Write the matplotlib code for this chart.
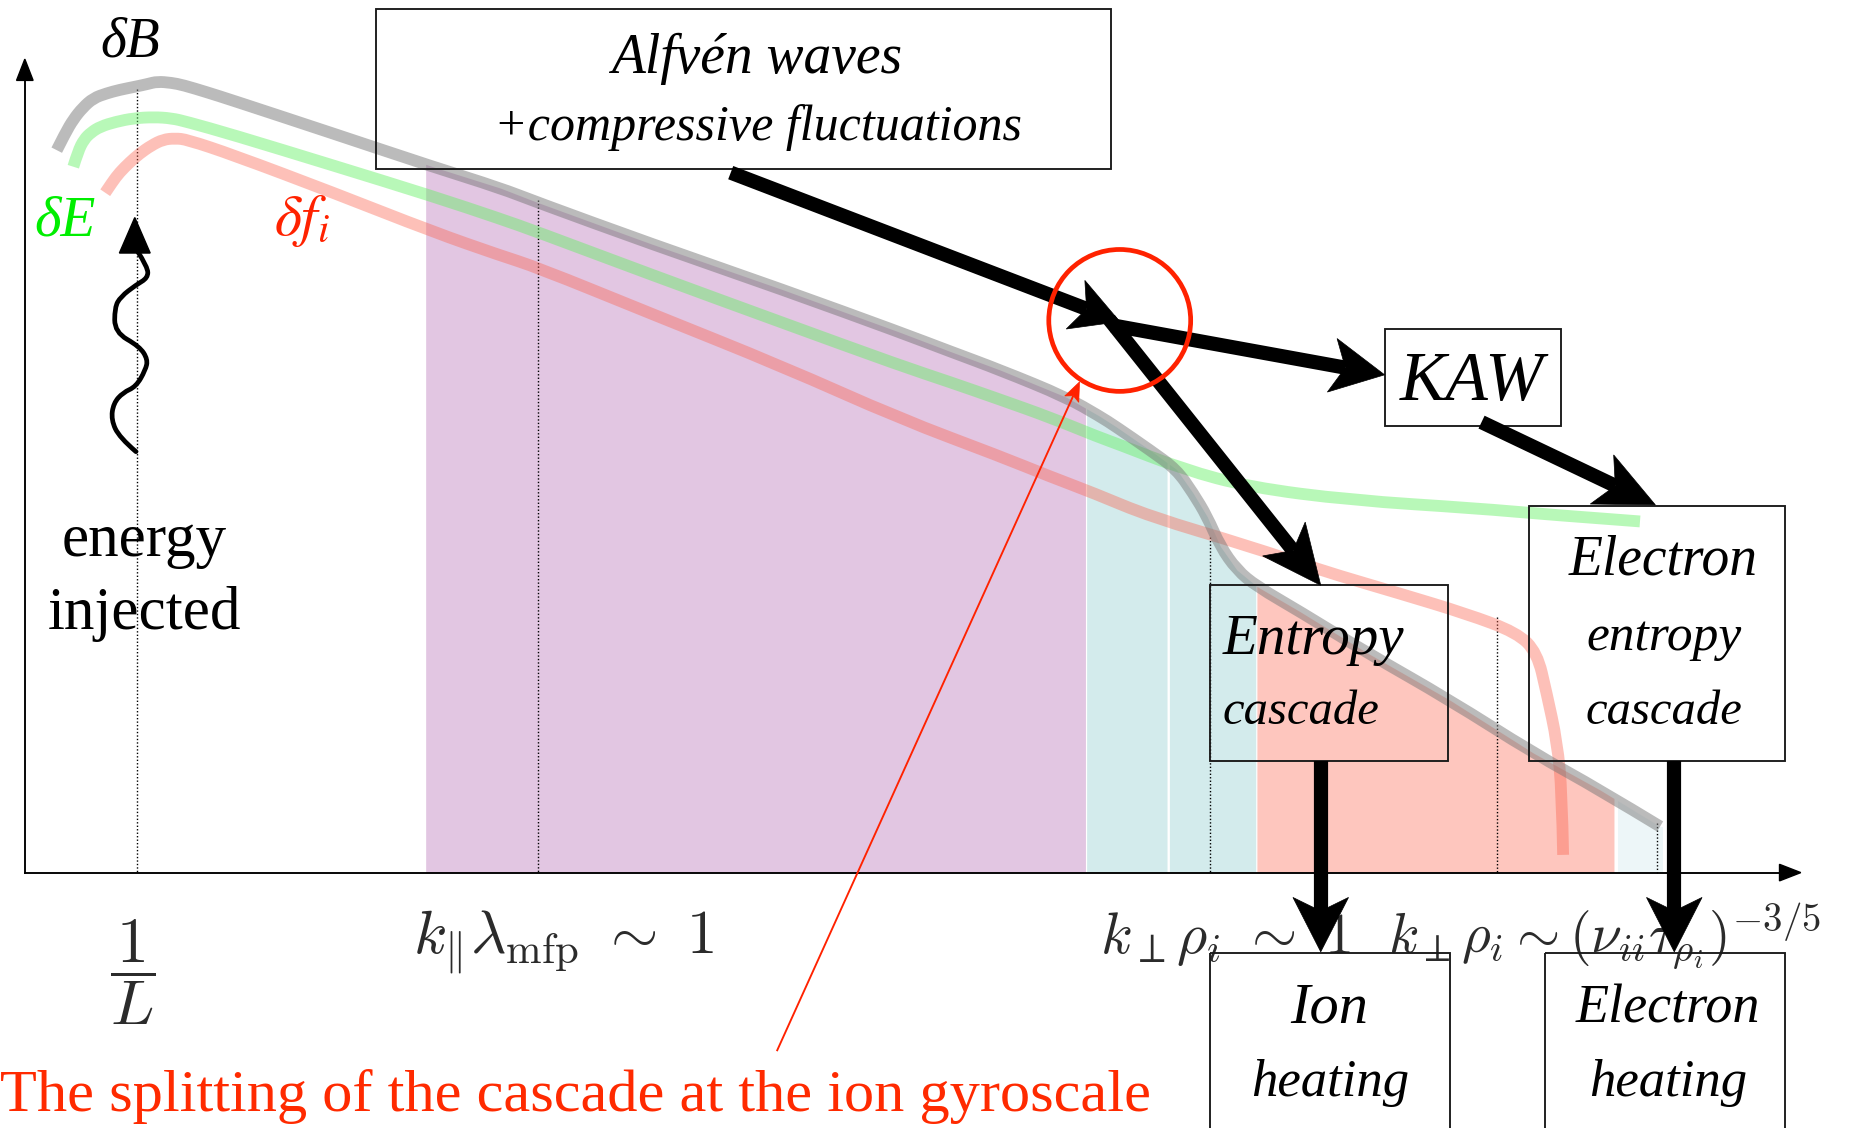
import numpy as np
import matplotlib
matplotlib.use("Agg")
import matplotlib.pyplot as plt
from matplotlib.patches import Polygon, Rectangle, Circle, PathPatch
from matplotlib.path import Path

# ---------------------------------------------------------------------------
# Diagram units: x = wavenumber position, y = spectral level (grows downward)
# ---------------------------------------------------------------------------
W, H = 1568, 954
AXIS_Y, AXIS_X0, AXIS_X1, AXIS_TOP = 738, 21, 1523, 50

# magnetic-field spectrum  dB
k_B = [48, 55, 62, 70, 79, 90, 101, 116, 125, 133, 145, 155, 175, 197, 282, 366,
       423, 454, 550, 662, 761, 803, 846, 902, 930, 944, 973, 995, 1009, 1021,
       1032, 1046, 1063, 1099, 1156, 1226, 1297, 1353, 1404]
dB = [127, 113, 101, 91, 83, 79, 76, 73, 71, 69, 70, 72, 78, 85, 113, 141,
      159, 171, 206, 245, 281, 297, 313, 336, 352, 361, 381, 397, 417, 437,
      462, 482, 496, 517, 552, 592, 637, 668, 699]

# electric-field spectrum  dE
k_E = [62, 66, 71, 77, 85, 98, 113, 130, 145, 158, 197, 282, 366, 423, 454, 550,
       662, 761, 803, 846, 888, 930, 944, 1001, 1057, 1142, 1250, 1307, 1387]
dE = [141, 128, 118, 112, 107, 103, 100, 99, 100, 103, 114, 140, 166, 185, 196, 232,
      273, 309, 323, 338, 353, 370, 375, 397, 412, 423, 430, 435, 441]

# ion distribution-function spectrum  df_i
k_f = [89, 95, 101, 110, 118, 128, 138, 148, 158, 197, 282, 366, 423, 454, 550,
       662, 761, 846, 888, 925, 973, 1057, 1116, 1184, 1240, 1283, 1300, 1308,
       1317, 1321, 1322]
df = [163, 154, 146, 137, 130, 123, 118, 117, 118, 131, 163, 196, 216, 226, 265,
      310, 354, 386, 403, 417, 437, 462, 482, 502, 519, 535, 552, 586,
      628, 671, 723]

# shaded wavenumber ranges under the dB spectrum
band_lo = [360, 919, 989, 1063, 1368]
band_hi = [918, 987, 1062, 1365, 1406]
band_col = ["#e2c6e2", "#d3ebec", "#d3ebec", "#fec6be", "#edf6f8"]

# characteristic scales (dotted markers) and their upper ends
mark_k = [116, 455, 1023, 1266, 1401]
mark_top = [75, 169, 454, 522, 696]

# boxes: (x0, y0, x1, y1)
boxes = {
    "alfven": (318, 8, 940, 143),
    "kaw": (1171, 278, 1320, 360),
    "entropy": (1023, 495, 1225, 644),
    "e_entropy": (1293, 428, 1510, 644),
    "ion_heat": (1023, 806, 1226, 975),
    "e_heat": (1307, 806, 1510, 975),
}

# thick cascade arrows: start, end, head length, head width
arrows = [
    ((618, 146), (947, 272), 40, 44),
    ((940, 275), (1171, 317), 45, 46),
    ((938, 270), (1117, 495), 50, 46),
    ((1253, 357), (1400, 427), 50, 46),
    ((1117, 644), (1117, 805), 46, 47),
    ((1416, 644), (1416, 805), 46, 47),
]

# energy-injection wave
wave_x = [115, 101, 94, 96, 104, 115, 123, 125, 118, 97, 97, 102, 115, 125, 125, 116]
wave_y = [382, 370, 355, 341, 332, 327, 313, 304, 293, 281, 260, 251, 241, 235, 226, 212]

PT = 18.54 * 72 / W      # points per diagram unit
SERIF = "Liberation Serif"

fig = plt.figure(figsize=(18.54, 11.28), dpi=100)
ax = fig.add_axes([0, 0, 1, 1])
ax.set_xlim(0, W)
ax.set_ylim(H, 0)
ax.axis("off")


def smooth_path(xs, ys):
    """Quadratic-Bezier path using the given points as control points."""
    p = np.column_stack([xs, ys]).astype(float)
    verts, codes = [p[0]], [Path.MOVETO]
    for i in range(1, len(p) - 1):
        mid = (p[i] + p[i + 1]) / 2
        verts += [p[i], mid if i < len(p) - 2 else p[i + 1]]
        codes += [Path.CURVE3, Path.CURVE3]
    return Path(verts, codes)


def spectrum(xs, ys, color, alpha):
    ax.add_patch(PathPatch(smooth_path(xs, ys), fc="none", ec=color, alpha=alpha,
                           lw=10 * PT, capstyle="butt", joinstyle="round", zorder=3))


def stealth(p0, p1, width, hl, hw, color="black", notch=0.25, z=6):
    p0 = np.asarray(p0, float)
    p1 = np.asarray(p1, float)
    d = (p1 - p0) / np.hypot(*(p1 - p0))
    n = np.array([-d[1], d[0]])
    base = p1 - d * hl
    nb = p1 - d * hl * (1 - notch)
    ax.plot([p0[0], nb[0]], [p0[1], nb[1]], color=color, lw=width * PT,
            solid_capstyle="butt", zorder=z)
    ax.add_patch(Polygon([p1, base + n * hw / 2, nb, base - n * hw / 2],
                         closed=True, fc=color, ec=color, lw=0.5, zorder=z))


# shaded bands follow the dB spectrum down to the axis
for lo, hi, c in zip(band_lo, band_hi, band_col):
    xs = np.linspace(lo, hi, 200)
    ax.fill_between(xs, np.interp(xs, k_B, dB), AXIS_Y, color=c, lw=0, zorder=1)

# dotted scale markers
for k, top in zip(mark_k, mark_top):
    ax.plot([k, k], [top, AXIS_Y], color="black", lw=1.0, ls=(0, (1, 1.5)), zorder=2)

# spectra
spectrum(k_E, dE, (0.39, 0.94, 0.39), 0.45)
spectrum(k_f, df, (0.98, 0.39, 0.31), 0.4)
spectrum(k_B, dB, (0.47, 0.47, 0.47), 0.5)

# coordinate axes with arrow tips
ax.plot([AXIS_X0, AXIS_X1 - 14], [AXIS_Y, AXIS_Y], color="black", lw=1.6 * PT, zorder=4)
ax.plot([AXIS_X0, AXIS_X0], [AXIS_Y, AXIS_TOP + 14], color="black", lw=1.6 * PT, zorder=4)
ax.add_patch(Polygon([(AXIS_X1, AXIS_Y), (AXIS_X1 - 18, AXIS_Y - 7),
                      (AXIS_X1 - 18, AXIS_Y + 7)], fc="black", ec="black", zorder=4))
ax.add_patch(Polygon([(AXIS_X0, AXIS_TOP), (AXIS_X0 - 7, AXIS_TOP + 18),
                      (AXIS_X0 + 7, AXIS_TOP + 18)], fc="black", ec="black", zorder=4))

# boxes (transparent)
for x0, y0, x1, y1 in boxes.values():
    ax.add_patch(Rectangle((x0, y0), x1 - x0, y1 - y0, fc="none",
                           ec="#1a1a1a", lw=1.6 * PT, zorder=5))

# energy injection wave + arrow
ax.add_patch(PathPatch(smooth_path(wave_x, wave_y), fc="none", ec="black",
                       lw=4 * PT, capstyle="round", joinstyle="round", zorder=6))
ax.add_patch(Polygon([(114, 184), (101, 214), (127, 214)], fc="black", ec="black", zorder=6))

# cascade arrows
for p0, p1, hl, hw in arrows:
    stealth(p0, p1, 12, hl, hw)

# gyroscale marker
ax.add_patch(Circle((947, 271), 60, fc="none", ec="#ff2200", lw=4 * PT, zorder=7))
stealth((657, 889), (913, 323), 1.6, 16, 13, color="#ff2200", notch=0.2, z=7)

# spectrum labels
ax.text(110, 48, "δB", family=SERIF, style="italic", fontsize=40, ha="center",
        va="baseline", color="black", zorder=8)
ax.text(55, 199, "δE", family=SERIF, style="italic", fontsize=41, ha="center",
        va="baseline", color="#00ee00", zorder=8)
ax.text(255, 199, r"$\delta f_i$", fontsize=42, math_fontfamily="stix", ha="center",
        va="baseline", color="#ff2200", zorder=8)

ax.text(122, 470, "energy", family=SERIF, fontsize=44, ha="center", va="baseline", zorder=8)
ax.text(122, 532, "injected", family=SERIF, fontsize=44, ha="center", va="baseline", zorder=8)

# box contents
box_font = dict(family=SERIF, style="italic", ha="center", va="baseline",
                color="black", zorder=8)
ax.text(640, 62, "Alfvén waves", fontsize=40, **box_font)
ax.text(641, 118, "+compressive fluctuations", fontsize=36, **box_font)
ax.text(1245, 338, "KAW", fontsize=50, **box_font)
ax.text(1111, 553, "Entropy", fontsize=41, **box_font)
ax.text(1100, 612, "cascade", fontsize=35, **box_font)
ax.text(1407, 486, "Electron", fontsize=40, **box_font)
ax.text(1407, 550, "entropy", fontsize=37, **box_font)
ax.text(1407, 612, "cascade", fontsize=35, **box_font)
ax.text(1124, 865, "Ion", fontsize=42, **box_font)
ax.text(1125, 927, "heating", fontsize=38, **box_font)
ax.text(1411, 865, "Electron", fontsize=39, **box_font)
ax.text(1411, 927, "heating", fontsize=38, **box_font)

# scale labels on the wavenumber axis
lab = dict(math_fontfamily="cm", color="#2b2b2b", va="baseline", zorder=4)
ax.text(112, 822, r"$\dfrac{1}{L}$", fontsize=46, ha="center", va="center",
        math_fontfamily="cm", color="#2b2b2b", zorder=4)
ax.text(349, 806, r"$k_\Vert\lambda_{\rm mfp}\ \sim\ 1$", fontsize=44, ha="left", **lab)
ax.text(930, 806, r"$k_\perp\rho_i\ \sim\ 1$", fontsize=42, ha="left", **lab)
ax.text(1174, 806, r"$k_\perp\rho_i\sim(\nu_{ii}\tau_{\rho_i})^{-3/5}$", fontsize=40,
        ha="left", **lab)

ax.text(0, 940, "The splitting of the cascade at the ion gyroscale", family=SERIF,
        fontsize=43.5, color="#ff2a00", ha="left", va="baseline", zorder=8)

fig.savefig("out.png", dpi=100)
